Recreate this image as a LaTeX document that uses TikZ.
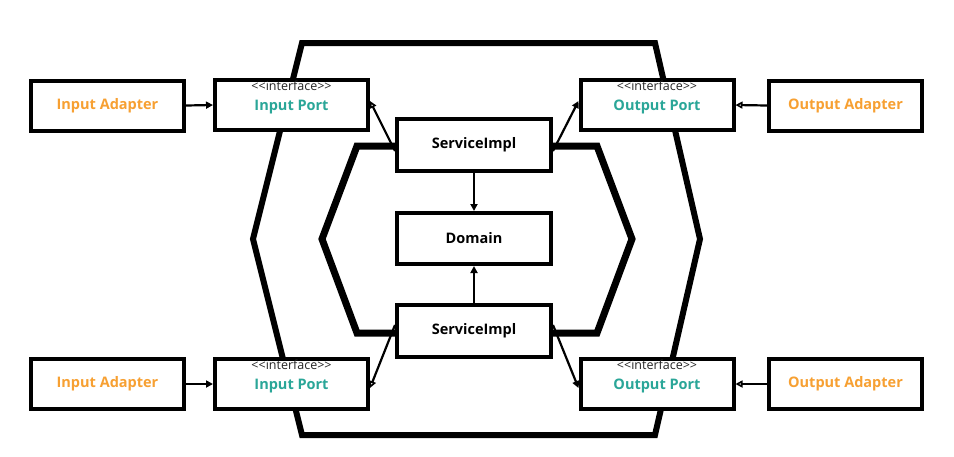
\documentclass[tikz,border=0pt]{standalone}
\usepackage{fontspec}
\setmainfont{Open Sans}
\usetikzlibrary{arrows.meta}
\definecolor{adapterorange}{RGB}{247,160,50}
\definecolor{portteal}{RGB}{42,166,152}
\tikzset{
  box/.style={draw=black, line width=4pt, fill=white, minimum width=153pt, minimum height=50pt, inner sep=0pt},
  adaptertext/.style={font=\fontsize{14.5}{16}\selectfont\bfseries, text=adapterorange},
  porttext/.style={font=\fontsize{14.5}{16}\selectfont\bfseries, text=portteal, text depth=-1pt},
  coretext/.style={font=\fontsize{14.5}{16}\selectfont\bfseries, text=black},
  iface/.style={label={[font=\fontsize{12.5}{14}\selectfont, text=black!85, anchor=north, inner sep=0pt, yshift=-3pt]north:{<\kern0pt<interface>\kern0pt>}}},
  hexline/.style={line width=6pt, line join=miter},
  conn/.style={line width=2.2pt},
  solidhead/.style={-{Triangle[length=7pt,width=7pt]}},
  openhead/.style={-{Triangle[open,length=7pt,width=7pt,line width=1.6pt]}},
}
\begin{document}
\begin{tikzpicture}[x=1pt,y=-1pt]
\useasboundingbox (0,0) rectangle (954,456);
% hexagons
\draw[hexline] (302,43) -- (655,43) -- (700,239) -- (655,435) -- (302,435) -- (253,239) -- cycle;
\draw[hexline, line width=7pt] (357,146) -- (597,146) -- (632,239) -- (597,333) -- (357,333) -- (322,239) -- cycle;
% nodes
\node[box, adaptertext] (ia1) at (107.5,105.5) {Input Adapter};
\node[box, porttext, iface] (ip1) at (291.5,105) {Input Port};
\node[box, porttext, iface] (op1) at (657,105) {Output Port};
\node[box, adaptertext] (oa1) at (845.5,105.5) {Output Adapter};
\node[box, adaptertext] (ia2) at (107.5,384) {Input Adapter};
\node[box, porttext, iface] (ip2) at (291.5,384) {Input Port};
\node[box, porttext, iface] (op2) at (657,384) {Output Port};
\node[box, adaptertext] (oa2) at (845.5,384) {Output Adapter};
\node[box, coretext, minimum width=154pt, minimum height=52pt] (s1) at (474,145) {ServiceImpl};
\node[box, coretext, minimum width=154pt, minimum height=51pt] (d) at (474,238.5) {Domain};
\node[box, coretext, minimum width=154pt, minimum height=52pt] (s2) at (474,331) {ServiceImpl};
% connectors
\draw[conn, solidhead] (ia1.east) -- (ip1.west);
\draw[conn, solidhead] (ia2.east) -- (ip2.west);
\draw[conn, openhead] (oa1.west) -- (op1.east);
\draw[conn, openhead] (oa2.west) -- (op2.east);
\draw[conn, openhead] ([yshift=-6pt]s1.west) -- ([yshift=4pt]ip1.east);
\draw[conn, solidhead] ([yshift=-6pt]s1.east) -- ([yshift=4pt]op1.west);
\draw[conn, openhead] ([yshift=6pt]s2.west) -- ([yshift=-4pt]ip2.east);
\draw[conn, solidhead] ([yshift=6pt]s2.east) -- ([yshift=-4pt]op2.west);
\draw[conn, solidhead] (s1.south) -- (d.north);
\draw[conn, solidhead] (s2.north) -- (d.south);
\end{tikzpicture}
\end{document}
